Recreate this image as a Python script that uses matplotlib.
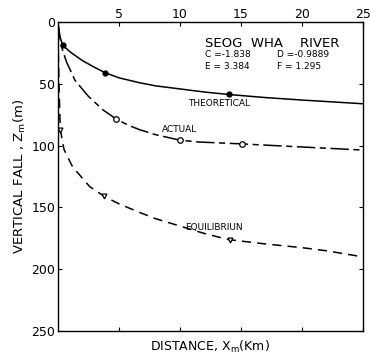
import matplotlib
matplotlib.use("Agg")
import matplotlib.pyplot as plt

# Theoretical curve
theo_x = [0, 0.1, 0.4, 1, 2, 3, 3.9, 5, 6.7, 8, 10, 12, 14, 17, 20, 25]
theo_y = [0, 10, 18.6, 24, 31, 36.5, 41, 45, 49, 51.5, 54, 56.5, 58.5, 61, 63, 66]
theo_mx = [0.4, 3.9, 14.0]
theo_my = [18.6, 41, 58.5]

# Actual curve
act_x = [0, 0.3, 0.7, 1.4, 2.5, 3.7, 4.8, 5.8, 6.7, 8, 10, 11.6, 15.1, 18, 21, 25]
act_y = [0, 20, 32, 47, 60, 71, 78.5, 83.5, 87, 91, 95.5, 97, 98.5, 100, 101.5, 103.5]
act_mx = [4.8, 10.0, 15.1]
act_my = [78.5, 95.5, 98.5]

# Equilibrium curve
eq_x = [0, 0.05, 0.1, 0.2, 0.5, 1.2, 2.6, 3.8, 5, 6.7, 8, 10, 12, 14, 17, 20, 22, 25]
eq_y = [0, 30, 55, 87, 103, 117, 133, 141, 147, 154, 159, 165, 171, 176, 179.5, 182.5, 185, 190]
eq_mx = [0.2, 3.8, 14.1]
eq_my = [87, 141, 176]

xticks = [5, 10, 15, 20, 25]
yticks = [0, 50, 100, 150, 200, 250]

fig = plt.figure(figsize=(3.71, 3.62), dpi=100)
ax = fig.add_axes([0.156, 0.0856, 0.822, 0.853])

lw = 1.1
ax.plot(theo_x, theo_y, color="black", lw=lw)
ax.plot(theo_mx, theo_my, "o", color="black", ms=3.5)

ax.plot(act_x, act_y, color="black", lw=lw, dashes=(12, 3, 4, 3))
ax.plot(act_mx, act_my, "o", mfc="white", mec="black", ms=4, mew=0.9)

ax.plot(eq_x, eq_y, color="black", lw=lw, dashes=(6, 4))
ax.plot(eq_mx, eq_my, "v", mfc="white", mec="black", ms=3.5, mew=0.9)

ax.set_xlim(0, 25)
ax.set_ylim(250, 0)
ax.xaxis.tick_top()
ax.set_xticks(xticks)
ax.set_xticklabels([str(t) for t in xticks], fontsize=9)
ax.set_yticks(yticks)
ax.set_yticklabels([str(t) for t in yticks], fontsize=9)
ax.tick_params(axis="x", which="both", direction="in", top=True, bottom=True, length=3, pad=1)
ax.tick_params(axis="y", which="both", direction="in", left=True, right=True, length=3, pad=2)
for s in ax.spines.values():
    s.set_linewidth(1.0)

ax.set_xlabel("DISTANCE, X$_{\\mathrm{m}}$(Km)", fontsize=9)
ax.xaxis.set_label_position("bottom")
ax.xaxis.labelpad = 6
ax.set_ylabel("VERTICAL FALL , Z$_{\\mathrm{m}}$(m)", fontsize=9.5)
ax.yaxis.labelpad = 2

ax.text(0.482, 0.932, "SEOG  WHA    RIVER", transform=ax.transAxes, fontsize=9.5, va="center")
ax.text(0.482, 0.894, "C =-1.838", transform=ax.transAxes, fontsize=6.5, va="center")
ax.text(0.72, 0.894, "D =-0.9889", transform=ax.transAxes, fontsize=6.5, va="center")
ax.text(0.482, 0.858, "E = 3.384", transform=ax.transAxes, fontsize=6.5, va="center")
ax.text(0.72, 0.858, "F = 1.295", transform=ax.transAxes, fontsize=6.5, va="center")
ax.text(10.7, 65.5, "THEORETICAL", fontsize=6.5, va="center")
ax.text(8.5, 86.5, "ACTUAL", fontsize=6.5, va="center")
ax.text(10.4, 166, "EQUILIBRIUN", fontsize=6.5, va="center")

fig.savefig("out.png", dpi=100)
